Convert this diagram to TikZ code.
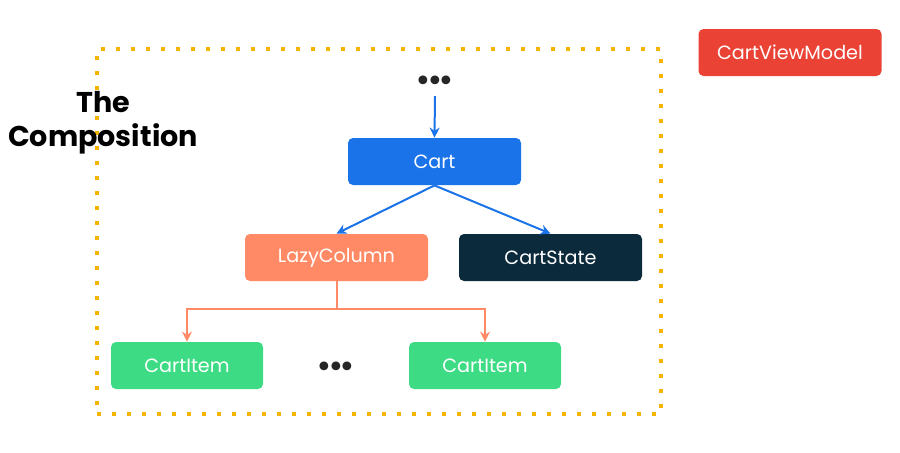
\documentclass[tikz,border=0pt]{standalone}
\usepackage{fontspec}
\setmainfont{Poppins}
\newfontfamily\dotfont{DejaVu Sans}
\usetikzlibrary{arrows.meta, positioning}
\definecolor{cartblue}{HTML}{1A73E8}
\definecolor{lazyorange}{HTML}{FF8A65}
\definecolor{statenavy}{HTML}{0B2A3C}
\definecolor{itemgreen}{HTML}{3DDC84}
\definecolor{vmred}{HTML}{EA4335}
\definecolor{frameyellow}{HTML}{F4B400}
\newcommand{\threedots}{•\kern-3.1pt•\kern-3.1pt•}

\begin{document}
\begin{tikzpicture}[
    x=0.5pt, y=-0.5pt,
    >=Stealth,
    block/.style={rounded corners=2.5pt, minimum height=23.5pt,
        minimum width=91.5pt, inner sep=0pt, text=white,
        font=\fontsize{9.6}{11}\selectfont},
    cartbox/.style={block, fill=cartblue, minimum width=86.5pt},
    lazybox/.style={block, fill=lazyorange},
    statebox/.style={block, fill=statenavy},
    itembox/.style={block, fill=itemgreen, minimum width=76pt},
    vmbox/.style={block, fill=vmred},
    dotsnode/.style={font=\dotfont\fontsize{15}{15}\selectfont, inner sep=0pt,
        text=black!85},
    barr/.style={->, line width=1pt, draw=cartblue,
        arrows={-Stealth[length=5pt, width=5pt]}},
    oarr/.style={->, line width=1pt, draw=lazyorange,
        arrows={-Stealth[length=5pt, width=5pt]}},
    framebox/.style={draw=frameyellow, line width=2pt,
        dash pattern=on 2pt off 5.5pt, minimum width=282pt,
        minimum height=182.5pt, inner sep=0pt},
]
\useasboundingbox (0,0) rectangle (900,452);

% --- frame and title ---
\node[framebox] (frame) at (379,231.5) {};
\node[font=\fontsize{14.3}{17}\selectfont\bfseries, align=center] (title)
    at (103,123) {The\\Composition};

% --- nodes ---
\node[dotsnode] (topdots) at (435,84) {\threedots};
\node[cartbox] (cart) at (434.5,161.5) {Cart};
\node[lazybox] (lazy) at (336.5,257.5) {LazyColumn};
\node[statebox] (state) at (550.5,257.5) {CartState};
\node[itembox] (itemA) at (187,365.5) {CartItem};
\node[dotsnode] (middots) at (336,370) {\threedots};
\node[itembox] (itemB) at (485,365.5) {CartItem};
\node[vmbox] (vm) at (790,52.5) {CartViewModel};

% --- connectors ---
\draw[barr] ([yshift=-2pt]topdots.south) -- (cart.north);
\draw[barr] (cart.south) -- (lazy.north);
\draw[barr] (cart.south) -- (state.north);
\coordinate (split) at ([yshift=-14pt]lazy.south);
\draw[line width=1pt, draw=lazyorange] (lazy.south) -- (split);
\draw[oarr] (split) -| (itemA.north);
\draw[oarr] (split) -| (itemB.north);

\end{tikzpicture}
\end{document}
